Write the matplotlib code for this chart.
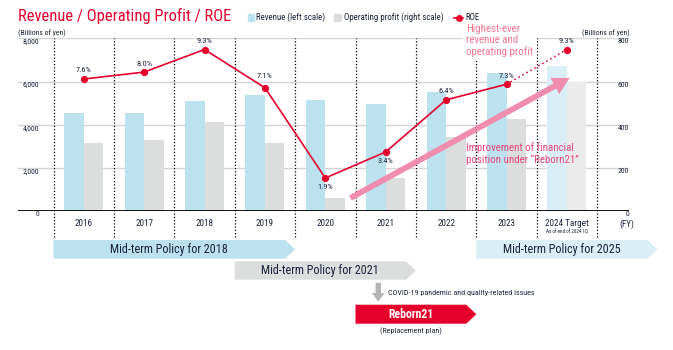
import matplotlib
matplotlib.use("Agg")
import matplotlib.pyplot as plt
from matplotlib import font_manager
from matplotlib.patches import Polygon, Rectangle
from matplotlib.lines import Line2D

# data
years = ["2016", "2017", "2018", "2019", "2020", "2021", "2022", "2023", "2024 Target"]
revenue = [4525, 4527, 5108, 5363, 5154, 4937, 5516, 6401, 6700]     # left scale
op_profit = [316, 331, 413, 316, 61, 155, 341, 426, 600]              # right scale
roe = [7.6, 8.0, 9.3, 7.1, 1.9, 3.4, 6.4, 7.3, 9.3]                   # %
roe_labels = ["7.6%", "8.0%", "9.3%", "7.1%", "1.9%", "3.4%", "6.4%", "7.3%", "9.3%"]
left_ticks = [0, 2000, 4000, 6000, 8000]
left_ticklabels = ["0", "2,000", "4,000", "6,000", "8,000"]
right_ticks = [0, 200, 400, 600, 800]
right_ticklabels = ["0", "200", "400", "600", "800"]

# (label, start boundary, end boundary, row)
policies = [
    ("Mid-term Policy for 2018", -0.5, 3.5, 0),
    ("Mid-term Policy for 2021", 2.5, 5.5, 1),
    ("Mid-term Policy for 2025", 6.5, 9.5, 0),
]

avail = {f.name for f in font_manager.fontManager.ttflist}
FONT = next((f for f in ["Liberation Sans Narrow", "Roboto Condensed", "Roboto"] if f in avail), "DejaVu Sans")
plt.rcParams["font.family"] = FONT

RED = "#e4002b"
REV_C = "#bce2f0"
OP_C = "#dcdddd"
REV_T = "#d9eef7"
OP_T = "#ebebeb"
DARK = "#1c2340"
PINK = "#f08cae"

W, H = 673, 350
fig = plt.figure(figsize=(W / 100, H / 100), dpi=100)


def fx(px):
    return px / W


def fy(py):
    return 1 - py / H


# category geometry (pixels)
c0, step = 83.7, 60.4
ax_l, ax_r, ax_t, ax_b = 18, 629, 38.4, 211
L = (ax_l - c0) / step
R = (ax_r - c0) / step

ax = fig.add_axes([fx(ax_l), fy(ax_b), (ax_r - ax_l) / W, (ax_b - ax_t) / H])
ax2 = ax.twinx()
ax3 = ax.twinx()

x = list(range(len(years)))
bw = 0.323
n_act = len(years) - 1

ax.bar([i - bw / 2 for i in x], revenue, width=bw,
       color=[REV_C] * n_act + [REV_T], zorder=2)
ax2.bar([i + bw / 2 for i in x], op_profit, width=bw,
        color=[OP_C] * n_act + [OP_T], zorder=2)

ax.set_xlim(L, R)
ax.set_ylim(0, 8000)
ax2.set_ylim(0, 800)
ax3.set_ylim(0, 9.94)

# gridlines and dotted separators
for v in left_ticks[1:]:
    ax.axhline(v, color="#d4d4d4", lw=1.0, zorder=0)
ax.vlines([i - 0.5 for i in range(len(years) + 1)], -1200, 8000,
          colors="black", linestyles=(0, (1, 1.6)), lw=0.9, clip_on=False, zorder=1)

for a in (ax, ax2, ax3):
    for s in a.spines.values():
        s.set_visible(False)

ax.set_xticks(x)
ax.set_xticklabels(years, fontsize=6.6, color=DARK)
ax.tick_params(axis="x", length=0, pad=5.5)

ax.set_yticks(left_ticks)
ax.set_yticklabels(left_ticklabels, fontsize=5.6, color=DARK, va="top")
ax.tick_params(axis="y", length=0, pad=-15.2)

ax2.set_yticks(right_ticks)
ax2.set_yticklabels(right_ticklabels, fontsize=5.6, color=DARK, va="top", ha="right")
ax2.tick_params(axis="y", length=0, pad=0)
ax3.set_yticks([])

ax3.axhline(0, color="black", lw=1.3, zorder=5)

# improvement arrow
ax3.annotate("", xy=(8.085, 7.74), xytext=(4.376, 0.67),
             arrowprops=dict(arrowstyle="simple,head_length=0.55,head_width=0.6,tail_width=0.19",
                             color=PINK, lw=0, mutation_scale=22), zorder=3)

# ROE line
ax3.plot(x[:-1], roe[:-1], color=RED, lw=1.2, marker="o", ms=4.2, zorder=6)
ax3.plot(x[-2:], roe[-2:], color=RED, lw=1.1, ls=(0, (1, 2)), zorder=6)
ax3.plot(x[-1], roe[-1], color=RED, marker="o", ms=4.2, zorder=6)

below = {"1.9%", "3.4%"}
for i, (v, lab) in enumerate(zip(roe, roe_labels)):
    if lab in below:
        dy, va = -4.5, "top"
    else:
        dy, va = 4.0 if i != 3 else 6.5, "bottom"
    ax3.annotate(lab, (i, v), xytext=(0, dy), textcoords="offset points",
                 ha="center", va=va, fontsize=6.0, color=DARK, zorder=7)

# "As of end of 2024 1Q" under target label
ax3.annotate("As of end of 2024 1Q", (8, 0), xytext=(0, -14.8), textcoords="offset points",
             ha="center", va="center", fontsize=3.6, color=DARK)
fig.text(fx(626.5), fy(224), "(FY)", ha="center", va="center", fontsize=6.5, color=DARK)

# title, units, legend
fig.text(fx(18), fy(15.7), "Revenue / Operating Profit / ROE", fontsize=11.9, color=RED,
         ha="left", va="center")
fig.text(fx(18), fy(32.7), "(Billions of yen)", fontsize=5.6, color=DARK, ha="left", va="center")
fig.text(fx(630), fy(32.7), "(Billions of yen)", fontsize=5.6, color=DARK, ha="right", va="center")

leg_y = 17.5
fig.patches.append(Rectangle((fx(247.5), fy(leg_y + 3.5)), 6.8 / W, 7 / H, color=REV_C,
                             transform=fig.transFigure))
fig.text(fx(256.5), fy(leg_y), "Revenue (left scale)", fontsize=6.4, color=DARK, va="center")
fig.patches.append(Rectangle((fx(334.2), fy(leg_y + 3.5)), 6.8 / W, 7 / H, color=OP_C,
                             transform=fig.transFigure))
fig.text(fx(344), fy(leg_y), "Operating profit (right scale)", fontsize=6.4, color=DARK, va="center")
fig.lines.append(Line2D([fx(454), fx(463)], [fy(leg_y), fy(leg_y)], color=RED, lw=1.2,
                        marker="", transform=fig.transFigure))
fig.lines.append(Line2D([fx(458.5)], [fy(leg_y)], color=RED, marker="o", ms=4,
                        transform=fig.transFigure))
fig.text(fx(465), fy(leg_y), "ROE", fontsize=6.4, color=DARK, va="center")

# annotations
fig.text(fx(466.5), fy(23.8), "Highest-ever\nrevenue and\noperating profit", fontsize=7.8,
         color="#f07490", ha="left", va="top", linespacing=1.15,
         bbox=dict(facecolor="white", edgecolor="none", pad=2.5), zorder=10)
fig.text(fx(465.5), fy(142), "Improvement of financial\nposition under \u201cReborn21\u201d",
         fontsize=7.8, color="#e8457a", ha="left", va="top", linespacing=1.12, zorder=10)

# bottom policy banners (x in category units, y in pixels from top)
ov = fig.add_axes([0, 0, 1, 1])
u = (R - L) / (ax_r - ax_l)
ov.set_xlim(L - ax_l * u, R + (W - ax_r) * u)
ov.set_ylim(H, 0)
ov.axis("off")
ov.patch.set_visible(False)

tip = 10 * u
rows = [(240, 258.7), (261.3, 279.7)]
banner_cols = [REV_C, OP_C, REV_T]
for (lab, x0, x1, row), col in zip(policies, banner_cols):
    y0, y1 = rows[row]
    ov.add_patch(Polygon([(x0, y0), (x1 - tip, y0), (x1, (y0 + y1) / 2), (x1 - tip, y1), (x0, y1)],
                         closed=True, color=col, lw=0))
    ov.text((x0 + x1 - tip) / 2, (y0 + y1) / 2 + 0.3, lab, fontsize=8.7, color=DARK,
            ha="center", va="center")

# Reborn21
ry0, ry1 = 304.7, 323.7
rx0, rx1 = 4.5, 6.5
ov.add_patch(Polygon([(rx0, ry0), (rx1 - tip, ry0), (rx1, (ry0 + ry1) / 2), (rx1 - tip, ry1), (rx0, ry1)],
                     closed=True, color=RED, lw=0))
ov.text((rx0 + rx1 - tip) / 2, (ry0 + ry1) / 2, "Reborn21", fontsize=8.5, color="white",
        ha="center", va="center", fontweight="bold")
ov.text((rx0 + rx1 - tip) / 2, 331.5, "(Replacement plan)", fontsize=5.8, color=DARK,
        ha="center", va="center")

ax_x = 4.877
ov.annotate("", xy=(ax_x, 304.5), xytext=(ax_x, 280),
            arrowprops=dict(arrowstyle="simple,head_length=0.45,head_width=0.65,tail_width=0.28",
                            color="#b4b4b4", lw=0, mutation_scale=14))
ov.text(ax_x + 9.5 * u, 293, "COVID-19 pandemic and quality-related issues", fontsize=5.8,
        color=DARK, ha="left", va="center")

fig.savefig("out.png", dpi=100)
